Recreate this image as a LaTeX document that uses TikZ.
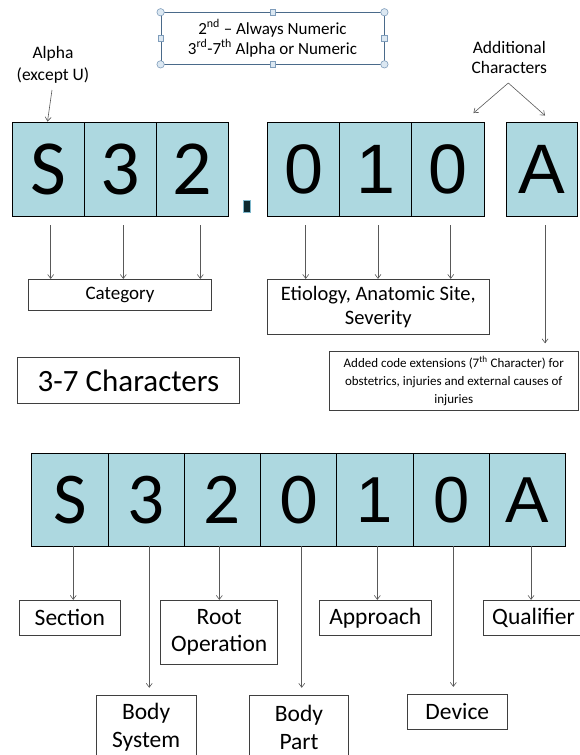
\documentclass[tikz,border=0pt]{standalone}
\usepackage{fontspec}
\setmainfont{Carlito}
\newfontfamily\arialf{Liberation Sans}
\usetikzlibrary{arrows.meta,calc}
\definecolor{cellblue}{HTML}{ADD8E0}
\definecolor{boxline}{HTML}{3F3F3F}
\definecolor{arrgray}{HTML}{595959}
\definecolor{tbline}{HTML}{4A6A8A}
\definecolor{handlefill}{HTML}{DCE8F2}
\definecolor{handleline}{HTML}{7F9DBB}
\definecolor{dotfill}{HTML}{0E2A30}
\definecolor{dotline}{HTML}{7FB8CC}
\begin{document}
\begin{tikzpicture}[x=1pt,y=-1pt,
 cell/.style={draw=black,line width=0.9pt,fill=cellblue,inner sep=0pt,minimum height=93.5pt},
 gl/.style={font=\fontsize{78}{78}\selectfont},
 al/.style={font=\arialf\fontsize{70}{70}\selectfont},
 bgl/.style={font=\fontsize{73}{73}\selectfont},
 bal/.style={font=\arialf\fontsize{65}{65}\selectfont},
 bcell/.style={draw=black,line width=0.9pt,fill=cellblue,inner sep=0pt,minimum width=76.3pt,minimum height=92.7pt},
 lbox/.style={draw=boxline,line width=0.8pt,inner sep=0pt,align=center},
 arr/.style={draw=arrgray,line width=0.6pt,-{Straight Barb[length=4pt,width=6pt]}},
 lab/.style={align=center,inner sep=0pt},
 handle/.style={draw=handleline,fill=handlefill,line width=0.6pt},
 bfont/.style={font=\fontsize{23.5}{27}\selectfont}
]
\useasboundingbox (0,0) rectangle (579,755);
\fill[white] (0,0) rectangle (579,755);

% top text box
\node[draw=tbline,line width=0.8pt,minimum width=223pt,minimum height=51.3pt,inner sep=0pt,align=center,
      font=\fontsize{17}{20}\selectfont] (tb) at (272.5,38.3)
  {2\textsuperscript{nd} – Always Numeric\\3\textsuperscript{rd}-7\textsuperscript{th} Alpha or Numeric};
\foreach \a in {north west,north east,south west,south east}
  \draw[handle] (tb.\a) circle (3.7);
\foreach \a in {north,south,west,east}
  \draw[handle] ($(tb.\a)+(-2.7,-2.7)$) rectangle ++(5.4,5.4);

% labels at top
\node[lab,font=\fontsize{17.5}{22}\selectfont] (alpha) at (53,65) {Alpha\\(except U)};
\node[lab,font=\fontsize{17.5}{20}\selectfont] (addl) at (509.3,57.5) {Additional\\Characters};

% top cells
\node[cell,gl,minimum width=72.5pt] (t1) at (48.3,169.25) {S};
\node[cell,gl,minimum width=72pt] (t2) at (120.5,169.25) {3};
\node[cell,gl,minimum width=72pt] (t3) at (192.6,169.25) {2};
\node[cell,al,minimum width=71.8pt] (t4) at (303.6,169.25) {0};
\node[cell,al,minimum width=72pt] (t5) at (375.5,169.25) {1};
\node[cell,al,minimum width=72.5pt] (t6) at (447.75,169.25) {0};
\node[cell,al,minimum width=71.7pt] (t8) at (541.85,169.25) {A};
\node[draw=dotline,fill=dotfill,line width=0.8pt,minimum width=7.7pt,minimum height=12pt,inner sep=0pt] (dot) at (246.85,206) {};

% arrows from labels
\coordinate (alphastart) at (52,90);
\draw[arr] (alphastart) -- ($(t1.north)+(-0.8,-0.5)$);
\coordinate (apex) at (508.3,83);
\draw[arr] (apex) -- ($(t6.north east)+(-11,-9)$);
\draw[arr] (apex) -- ($(t8.north)+(3.2,-6.5)$);

% boxes middle
\node[lbox,minimum width=182.6pt,minimum height=30.7pt,font=\fontsize{19}{24}\selectfont] (cat) at (120,294.7) {Category};
\node[lbox,minimum width=221.3pt,minimum height=55pt,font=\fontsize{20.5}{24}\selectfont] (eti) at (378.3,306.8) {Etiology, Anatomic Site,\\Severity};
\node[lbox,minimum width=221.6pt,minimum height=46.4pt,font=\fontsize{31}{32}\selectfont] (chars) at (128.5,380.5) {3-7 Characters};
\node[lbox,minimum width=249.5pt,minimum height=58.3pt,font=\fontsize{13}{18}\selectfont] (add) at (453.75,380.85)
  {Added code extensions (7\textsuperscript{th} Character) for\\obstetrics, injuries and external causes of\\injuries};

\draw[arr] ($(t1.south)+(2.4,9)$) -- ($(t1.south |- cat.north)+(2.4,0)$);
\draw[arr] ($(t2.south)+(2.8,9)$) -- ($(t2.south |- cat.north)+(2.8,0)$);
\draw[arr] ($(t3.south)+(7.7,9)$) -- ($(t3.south |- cat.north)+(7.7,0)$);
\draw[arr] ($(t4.south)+(2.1,9)$) -- ($(t4.south |- eti.north)+(2.1,0)$);
\draw[arr] ($(t5.south)+(2.5,9)$) -- ($(t5.south |- eti.north)+(2.5,0)$);
\draw[arr] ($(t6.south)+(3,9)$) -- ($(t6.south |- eti.north)+(3,0)$);
\draw[arr] ($(t8.south)+(3.2,9)$) -- ($(t8.south |- add.north)+(3.2,-8)$);

% bottom cells
\node[bcell,bgl] (b1) at (69.85,499.65) {S};
\node[bcell,bgl] (b2) at (146.15,499.65) {3};
\node[bcell,bgl] (b3) at (222.45,499.65) {2};
\node[bcell,bgl] (b4) at (298.75,499.65) {0};
\node[bcell,bal] (b5) at (375.05,499.65) {1};
\node[bcell,bal] (b6) at (451.35,499.65) {0};
\node[bcell,bal] (b7) at (527.65,499.65) {A};

% bottom boxes
\node[lbox,bfont,minimum width=100.3pt,minimum height=35pt] (sec) at (69.85,617.8) {Section};
\node[lbox,bfont,minimum width=117pt,minimum height=63.7pt] (root) at (219.2,632.15) {Root\\Operation};
\node[lbox,bfont,minimum width=112pt,minimum height=35pt] (appr) at (375.3,617.8) {Approach};
\node[lbox,bfont,minimum width=100.4pt,minimum height=35pt] (qual) at (533.5,617.8) {Qualifier};
\node[lbox,font=\fontsize{23.5}{28}\selectfont,minimum width=99.7pt,minimum height=63.7pt] (bsys) at (146.15,727) {Body\\System};
\node[lbox,font=\fontsize{23.5}{28}\selectfont,minimum width=98.6pt,minimum height=63.7pt] (bpart) at (299,727) {Body\\Part};
\node[lbox,bfont,minimum width=100pt,minimum height=35pt] (dev) at (457.3,711.8) {Device};

\draw[arr] ($(b1.south)+(3.4,0)$) -- ($(b1.south |- sec.north)+(3.4,0)$);
\draw[arr] ($(b2.south)+(3.1,0)$) -- ($(b2.south |- bsys.north)+(3.1,-7)$);
\draw[arr] ($(b3.south)+(-3.1,0)$) -- ($(b3.south |- root.north)+(-3.1,0)$);
\draw[arr] ($(b4.south)+(3,0)$) -- ($(b4.south |- bpart.north)+(3,-7)$);
\draw[arr] ($(b5.south)+(2.3,0)$) -- ($(b5.south |- appr.north)+(2.3,0)$);
\draw[arr] ($(b6.south)+(2,0)$) -- ($(b6.south |- dev.north)+(2,-7)$);
\draw[arr] ($(b7.south)+(3.4,0)$) -- ($(b7.south |- qual.north)+(3.4,0)$);
\end{tikzpicture}
\end{document}
